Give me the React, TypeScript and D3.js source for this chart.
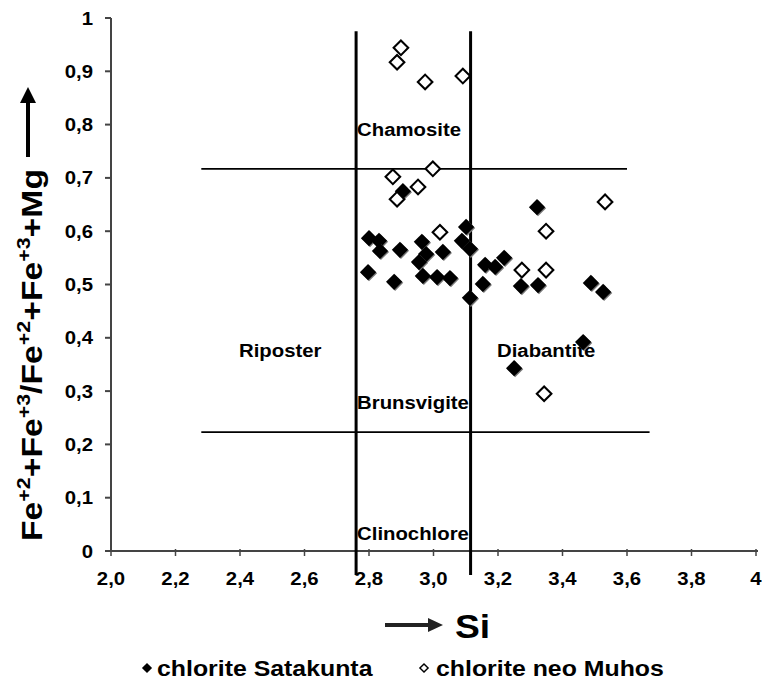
import React from "react";
import * as d3 from "d3";

// Satakunta chlorites (filled diamonds)
const satakuntaSi = [2.905, 2.8, 2.831, 2.834, 2.896, 2.797, 2.878, 2.964, 2.977, 2.955, 2.967, 3.029, 3.011, 3.051, 3.101, 3.088, 3.113, 3.113, 3.16, 3.191, 3.219, 3.153, 3.321, 3.271, 3.324, 3.488, 3.526, 3.464, 3.25];
const satakuntaFe = [0.675, 0.587, 0.582, 0.563, 0.565, 0.523, 0.505, 0.58, 0.557, 0.542, 0.516, 0.561, 0.514, 0.512, 0.608, 0.582, 0.567, 0.475, 0.537, 0.533, 0.55, 0.501, 0.645, 0.497, 0.499, 0.503, 0.486, 0.392, 0.343];

// Muhos chlorites (open diamonds)
const muhosSi = [2.899, 2.887, 2.974, 3.091, 2.998, 2.874, 2.952, 2.887, 3.02, 3.532, 3.349, 3.274, 3.349, 3.343];
const muhosFe = [0.944, 0.917, 0.88, 0.891, 0.717, 0.702, 0.683, 0.66, 0.598, 0.655, 0.6, 0.527, 0.527, 0.295];

const xTicks = [2.0, 2.2, 2.4, 2.6, 2.8, 3.0, 3.2, 3.4, 3.6, 3.8, 4.0];
const xTickLabels = ["2,0", "2,2", "2,4", "2,6", "2,8", "3,0", "3,2", "3,4", "3,6", "3,8", "4"];
const yTicks = [0, 0.1, 0.2, 0.3, 0.4, 0.5, 0.6, 0.7, 0.8, 0.9, 1];
const yTickLabels = ["0", "0,1", "0,2", "0,3", "0,4", "0,5", "0,6", "0,7", "0,8", "0,9", "1"];

// field boundaries
const boundarySi = [2.76, 3.115];
const boundarySiExtent = [-0.045, 0.975];
const boundaryFe = [0.717, 0.223];
const boundaryFeStart = [2.28, 2.28];
const boundaryFeEnd = [3.6, 3.67];

// field names
const fieldNames = ["Chamosite", "Riposter", "Diabantite", "Brunsvigite", "Clinochlore"];
const fieldSi = [2.763, 2.397, 3.197, 2.763, 2.763];
const fieldFe = [0.778, 0.364, 0.364, 0.266, 0.021];

const seriesNames = ["chlorite Satakunta", "chlorite neo Muhos"];

const W = 762;
const H = 681;
const SX = 1.13;
const FONT = "'Liberation Sans', Arial, sans-serif";

export default function App() {
  const x = d3.scaleLinear().domain([2, 4]).range([111, 756]);
  const y = d3.scaleLinear().domain([0, 1]).range([551, 18]);
  const diamond = d3.symbol().type(d3.symbolSquare).size(132)() as string;
  const smallDiamond = d3.symbol().type(d3.symbolSquare).size(52)() as string;

  const sat = satakuntaSi.map((s, i) => ({ s, f: satakuntaFe[i] }));
  const muh = muhosSi.map((s, i) => ({ s, f: muhosFe[i] }));

  return (
    <svg
      width={W}
      height={H}
      style={{ position: "absolute", left: 0, top: 0, background: "#fff" }}
      fontFamily={FONT}
    >
      <rect width={W} height={H} fill="#fff" />
      {/* axes */}
      <line x1={x(2)} x2={x(4) + 2} y1={y(0)} y2={y(0)} stroke="#444" strokeWidth={2} />
      <line x1={x(2)} x2={x(2)} y1={y(0)} y2={y(1)} stroke="#444" strokeWidth={2} />
      {yTicks.map((t) => (
        <line key={"yt" + t} x1={x(2) - 6} x2={x(2)} y1={y(t)} y2={y(t)} stroke="#444" strokeWidth={2} />
      ))}
      {xTicks.map((t) => (
        <line key={"xt" + t} x1={x(t)} x2={x(t)} y1={y(0) - 2} y2={y(0) + 5} stroke="#444" strokeWidth={1.5} />
      ))}
      {yTicks.map((t, i) => (
        <text
          key={"yl" + t}
          transform={`translate(93,${y(t) + 6.5}) scale(${SX},1)`}
          textAnchor="end"
          fontSize={18}
          fontWeight="bold"
        >
          {yTickLabels[i]}
        </text>
      ))}
      {xTicks.map((t, i) => (
        <text
          key={"xl" + t}
          transform={`translate(${x(t)},${584.5}) scale(${SX},1)`}
          textAnchor="middle"
          fontSize={18}
          fontWeight="bold"
        >
          {xTickLabels[i]}
        </text>
      ))}

      {/* boundaries */}
      {boundarySi.map((s) => (
        <line
          key={"bs" + s}
          x1={x(s)}
          x2={x(s)}
          y1={y(boundarySiExtent[0])}
          y2={y(boundarySiExtent[1])}
          stroke="#000"
          strokeWidth={3}
        />
      ))}
      {boundaryFe.map((f, i) => (
        <line
          key={"bf" + f}
          x1={x(boundaryFeStart[i])}
          x2={x(boundaryFeEnd[i])}
          y1={y(f)}
          y2={y(f)}
          stroke="#000"
          strokeWidth={1.8}
        />
      ))}

      {/* field names */}
      {fieldNames.map((n, i) => (
        <text
          key={n}
          transform={`translate(${x(fieldSi[i])},${y(fieldFe[i])}) scale(${SX},1)`}
          fontSize={18}
          fontWeight="bold"
        >
          {n}
        </text>
      ))}

      {/* data */}
      {sat.map((d, i) => (
        <g key={"s" + i} transform={`translate(${x(d.s)},${y(d.f)}) rotate(45)`}>
          <path d={diamond} fill="#777" transform="translate(1.4,0)" />
          <path d={diamond} fill="#000" />
        </g>
      ))}
      {muh.map((d, i) => (
        <g key={"m" + i} transform={`translate(${x(d.s)},${y(d.f)}) rotate(45)`}>
          <path d={diamond} fill="#fff" stroke="#000" strokeWidth={2.3} transform="scale(0.9)" />
        </g>
      ))}

      {/* y axis title */}
      <g transform="translate(42,541) rotate(-90)">
        <text fontSize={30} fontWeight="bold" textLength={372} lengthAdjust="spacingAndGlyphs">
          <tspan>Fe</tspan>
          <tspan fontSize={19} dy={-12}>+2</tspan>
          <tspan dy={12}>+Fe</tspan>
          <tspan fontSize={19} dy={-12}>+3</tspan>
          <tspan dy={12}>/Fe</tspan>
          <tspan fontSize={19} dy={-12}>+2</tspan>
          <tspan dy={12}>+Fe</tspan>
          <tspan fontSize={19} dy={-12}>+3</tspan>
          <tspan dy={12}>+Mg</tspan>
        </text>
      </g>
      <line x1={28} x2={28} y1={157} y2={100} stroke="#000" strokeWidth={4} />
      <path d="M28,87 L20,103 L36,103 Z" fill="#000" />

      {/* x axis title */}
      <line x1={385} x2={430} y1={625} y2={625} stroke="#222" strokeWidth={4} />
      <path d="M443,625 L428,618 L428,632 Z" fill="#222" />
      <text transform={`translate(455,638) scale(${SX},1)`} fontSize={33} fontWeight="bold">
        Si
      </text>

      {/* legend */}
      <g transform={`translate(147,668) rotate(45)`}>
        <path d={smallDiamond} fill="#000" />
      </g>
      <text transform={`translate(157,676) scale(${SX},1)`} fontSize={22} fontWeight="bold">
        {seriesNames[0]}
      </text>
      <g transform={`translate(424,668) rotate(45)`}>
        <path d={smallDiamond} fill="#fff" stroke="#000" strokeWidth={1.8} transform="scale(0.8)" />
      </g>
      <text transform={`translate(436,676) scale(${SX},1)`} fontSize={22} fontWeight="bold">
        {seriesNames[1]}
      </text>
    </svg>
  );
}
